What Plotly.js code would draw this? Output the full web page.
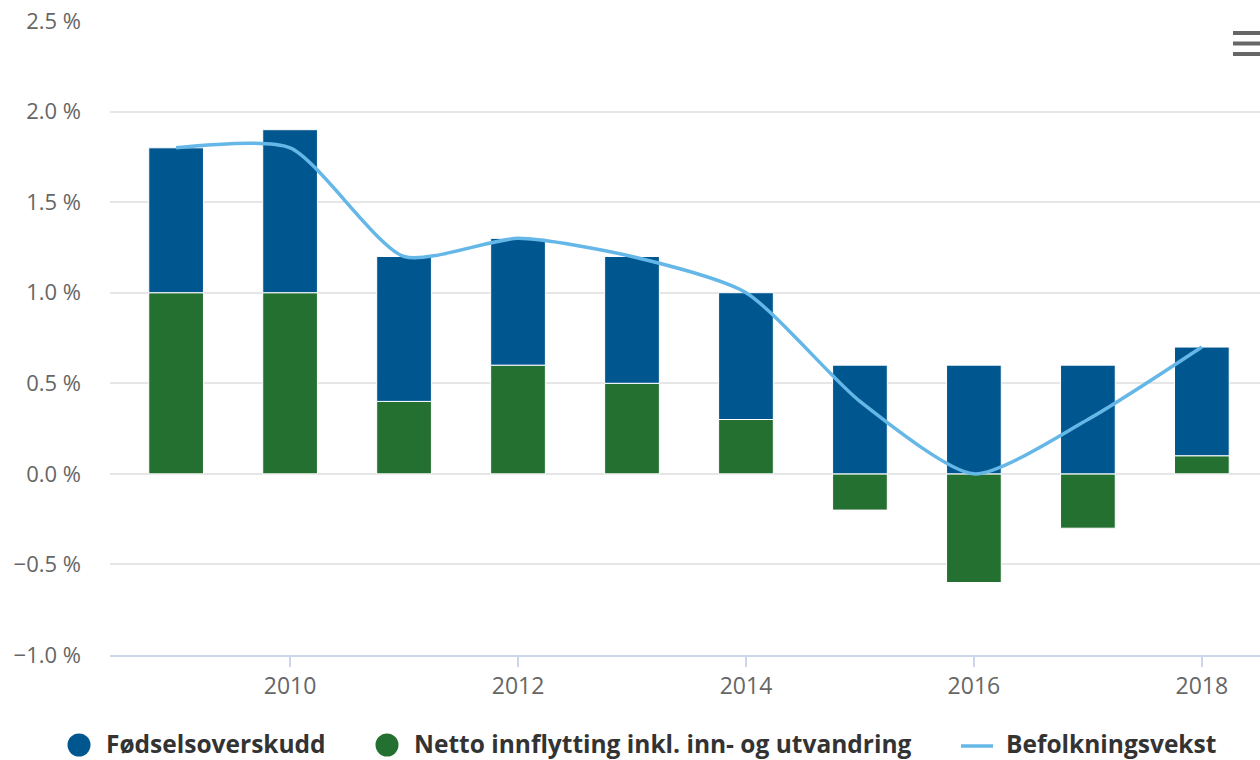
<!DOCTYPE html>
<html>
<head>
<meta charset="utf-8">
<script src="https://cdn.plot.ly/plotly-3.0.1.min.js"></script>
<style>html,body{margin:0;padding:0;background:#fff;}#chart{width:1260px;height:760px;}</style>
</head>
<body>
<div id="chart"></div>
<script>
const years = [2009, 2010, 2011, 2012, 2013, 2014, 2015, 2016, 2017, 2018];
const fodselsoverskudd = [0.8, 0.9, 0.8, 0.7, 0.7, 0.7, 0.6, 0.6, 0.6, 0.6];
const nettoInnflytting = [1.0, 1.0, 0.4, 0.6, 0.5, 0.3, -0.2, -0.6, -0.3, 0.1];
const befolkningsvekst = [1.8, 1.8, 1.2, 1.3, 1.2, 1.0, 0.4, 0.0, 0.3, 0.7];
const seriesNames = ["Fødselsoverskudd", "Netto innflytting inkl. inn- og utvandring", "Befolkningsvekst"];
const xTicks = [2010, 2012, 2014, 2016, 2018];

const BLUE = "#00568F", GREEN = "#237030", LIGHT = "#64B7E7";
const FONT = "Open Sans, Noto Sans, sans-serif";

// plot area in pixels (for positioning legend items)
const PL = 110, PR = 1260, PT = 21, PB = 655;
const px = x => (x - PL) / (PR - PL);
const py = y => (PB - y) / (PB - PT);

const traces = [
  {type: "bar", x: years, y: nettoInnflytting, name: seriesNames[1], width: 0.48,
   marker: {color: GREEN, line: {color: "#fff", width: 1}}, showlegend: false},
  {type: "bar", x: years, y: fodselsoverskudd, name: seriesNames[0], width: 0.48,
   marker: {color: BLUE, line: {color: "#fff", width: 1}}, showlegend: false},
  {type: "scatter", mode: "lines", x: years, y: befolkningsvekst, name: seriesNames[2],
   line: {color: LIGHT, width: 3.5, shape: "spline", smoothing: 0.65}, showlegend: false}
];

const legY = 745;
const legendItems = [
  {name: seriesNames[0], color: BLUE, kind: "circle", cx: 79, tx: 105},
  {name: seriesNames[1], color: GREEN, kind: "circle", cx: 387, tx: 413},
  {name: seriesNames[2], color: LIGHT, kind: "line", cx: 977, tx: 1005}
];

const shapes = [];
const annotations = [];
legendItems.forEach(it => {
  if (it.kind === "circle") {
    shapes.push({type: "circle", xref: "paper", yref: "paper",
      x0: px(it.cx - 11.5), x1: px(it.cx + 11.5), y0: py(legY + 11.5), y1: py(legY - 11.5),
      fillcolor: it.color, line: {width: 0}});
  } else {
    shapes.push({type: "line", xref: "paper", yref: "paper",
      x0: px(it.cx - 16), x1: px(it.cx + 16), y0: py(legY + 1), y1: py(legY + 1),
      line: {color: it.color, width: 3.5}});
  }
  annotations.push({xref: "paper", yref: "paper", x: px(it.tx), y: py(legY - 2),
    xanchor: "left", yanchor: "middle", showarrow: false, text: it.name,
    font: {family: FONT, size: 24.5, color: "#333", weight: "bold"}, borderpad: 0});
});
// export menu icon
[33, 43.5, 54].forEach(yy => shapes.push({type: "line", xref: "paper", yref: "paper",
  x0: px(1233), x1: 1.0, y0: py(yy), y1: py(yy), line: {color: "#666", width: 4}}));

const layout = {
  width: 1260, height: 760,
  margin: {l: PL, r: 1260 - PR, t: PT, b: 760 - PB, autoexpand: false},
  paper_bgcolor: "#fff", plot_bgcolor: "#fff",
  barmode: "relative",
  showlegend: false,
  font: {family: FONT, size: 22, color: "#666"},
  xaxis: {
    range: [2008.42, 2018.51], tickvals: xTicks, ticktext: xTicks.map(String),
    showgrid: false, zeroline: false, showline: true, linecolor: "#ccd6eb", linewidth: 1.5,
    ticks: "outside", ticklen: 10, tickcolor: "#ccd6eb", tickwidth: 1.5,
    tickfont: {family: FONT, size: 23, color: "#666"}
  },
  yaxis: {
    range: [-1, 2.5], dtick: 0.5, tick0: 0, tickformat: ".1f", ticksuffix: " %",
    showgrid: true, gridcolor: "#e6e6e6", gridwidth: 1.5, zeroline: false, showline: false,
    ticklabelstandoff: 28,
    tickfont: {family: FONT, size: 22, color: "#666"}
  },
  shapes: shapes,
  annotations: annotations,
  hovermode: "closest"
};

Plotly.newPlot("chart", traces, layout, {displayModeBar: false, responsive: false});
</script>
</body>
</html>
